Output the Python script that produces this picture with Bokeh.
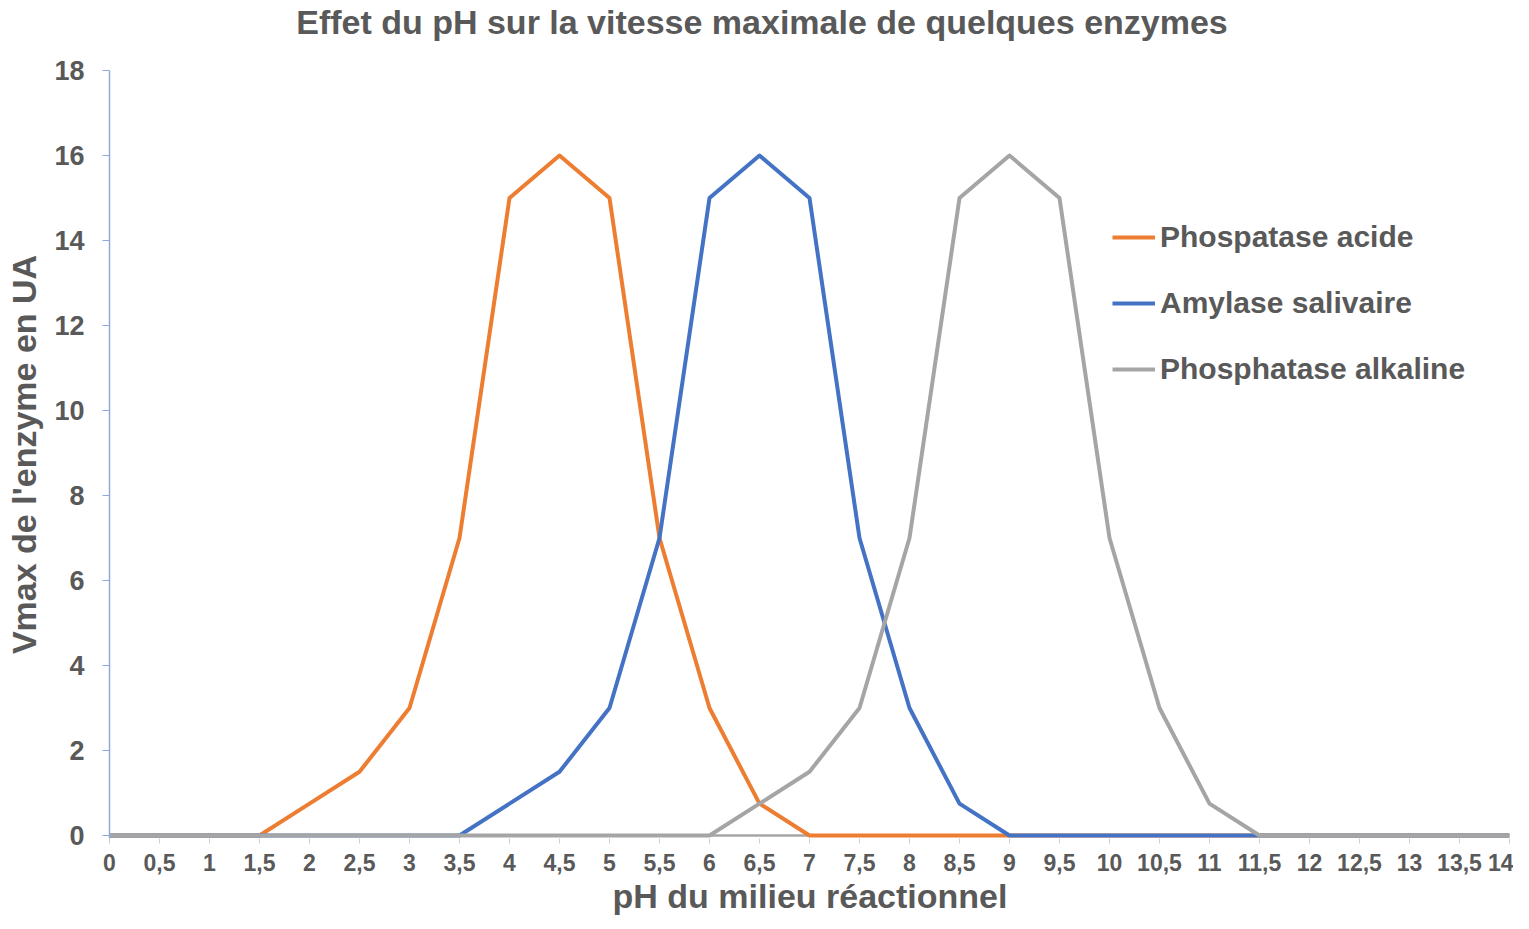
from bokeh.plotting import figure
from bokeh.models import Range1d, FixedTicker, Legend, LegendItem, Span, Div
from bokeh.layouts import column
from bokeh.embed import file_html
from bokeh.resources import INLINE

ph = [0, 0.5, 1, 1.5, 2, 2.5, 3, 3.5, 4, 4.5, 5, 5.5, 6, 6.5, 7, 7.5, 8, 8.5, 9, 9.5,
      10, 10.5, 11, 11.5, 12, 12.5, 13, 13.5, 14]
phospatase_acide = [0, 0, 0, 0, 0.75, 1.5, 3, 7, 15, 16, 15, 7, 3, 0.75, 0, 0, 0, 0, 0, 0,
                    0, 0, 0, 0, 0, 0, 0, 0, 0]
amylase_salivaire = [0, 0, 0, 0, 0, 0, 0, 0, 0.75, 1.5, 3, 7, 15, 16, 15, 7, 3, 0.75, 0, 0,
                     0, 0, 0, 0, 0, 0, 0, 0, 0]
phosphatase_alkaline = [0, 0, 0, 0, 0, 0, 0, 0, 0, 0, 0, 0, 0, 0.75, 1.5, 3, 7, 15, 16, 15,
                        7, 3, 0.75, 0, 0, 0, 0, 0, 0]
x_tick_labels = ["0", "0,5", "1", "1,5", "2", "2,5", "3", "3,5", "4", "4,5", "5", "5,5", "6",
                 "6,5", "7", "7,5", "8", "8,5", "9", "9,5", "10", "10,5", "11", "11,5", "12",
                 "12,5", "13", "13,5", "14"]
y_ticks = [0, 2, 4, 6, 8, 10, 12, 14, 16, 18]
series_names = ["Phospatase acide", "Amylase salivaire", "Phosphatase alkaline"]
series_colors = ["#ED7D31", "#4472C4", "#A5A5A5"]
title_text = "Effet du pH sur la vitesse maximale de quelques enzymes"
x_label_text = "pH du milieu réactionnel"
y_label_text = "Vmax de l'enzyme en UA"

FONT = "Liberation Sans"
TXT = "#595959"
W = 1513

title_div = Div(text=title_text, width=W, height=45, margin=0,
                styles={"font-family": FONT, "font-size": "34px", "font-weight": "bold",
                        "color": TXT, "line-height": "45px", "text-align": "center",
                        "padding-left": "11px", "box-sizing": "border-box",
                        "white-space": "nowrap"})

p = figure(width=W, height=834, output_backend="svg", toolbar_location=None,
           x_range=Range1d(0, 14), y_range=Range1d(-0.07, 18),
           min_border_left=109, min_border_right=4, min_border_top=25, min_border_bottom=41,
           margin=0)
p.outline_line_color = None
p.xgrid.visible = False
p.ygrid.visible = False

# x axis
p.xaxis.ticker = FixedTicker(ticks=ph)
p.xaxis.major_label_overrides = {v: s for v, s in zip(ph, x_tick_labels)}
p.xaxis.axis_line_alpha = 0
p.xaxis.major_tick_line_color = "#D0D0D0"
p.xaxis.major_tick_in = 0
p.xaxis.major_tick_out = 5
p.xaxis.minor_tick_line_color = None
p.xaxis.major_label_text_font = FONT
p.xaxis.major_label_text_font_size = "23px"
p.xaxis.major_label_text_font_style = "bold"
p.xaxis.major_label_text_color = TXT
p.xaxis.major_label_standoff = 10

# y axis
p.yaxis.ticker = FixedTicker(ticks=y_ticks)
p.yaxis.axis_line_color = "#8FAADC"
p.yaxis.axis_line_width = 1.5
p.yaxis.major_tick_line_color = "#8FAADC"
p.yaxis.major_tick_in = 0
p.yaxis.major_tick_out = 7
p.yaxis.minor_tick_line_color = None
p.yaxis.major_label_text_font = FONT
p.yaxis.major_label_text_font_size = "27px"
p.yaxis.major_label_text_font_style = "bold"
p.yaxis.major_label_text_color = TXT
p.yaxis.major_label_standoff = 18
p.yaxis.axis_label = y_label_text
p.yaxis.axis_label_text_font = FONT
p.yaxis.axis_label_text_font_size = "34px"
p.yaxis.axis_label_text_font_style = "bold"
p.yaxis.axis_label_text_color = TXT
p.yaxis.axis_label_standoff = 8

zero_line = Span(location=0, dimension="width", line_color="#A6A6A6", line_width=2.5,
                 level="underlay")
p.add_layout(zero_line)

items = []
for name, ys, col in zip(series_names,
                         [phospatase_acide, amylase_salivaire, phosphatase_alkaline],
                         series_colors):
    r = p.line(ph, ys, line_color=col, line_width=4, line_join="round")
    items.append(LegendItem(label=name, renderers=[r]))

legend = Legend(items=items, location=(1003, 452), orientation="vertical",
                border_line_alpha=0, background_fill_alpha=0,
                padding=0, margin=0, spacing=32, glyph_width=43, glyph_height=32,
                label_height=32, label_standoff=5,
                label_text_font=FONT, label_text_font_size="30px",
                label_text_font_style="bold", label_text_color=TXT)
p.add_layout(legend)

xlabel_div = Div(text=x_label_text, width=W, height=34, margin=0,
                 styles={"font-family": FONT, "font-size": "34px", "font-weight": "bold",
                         "color": TXT, "line-height": "34px", "text-align": "center",
                         "padding-left": "107px", "box-sizing": "border-box",
                         "white-space": "nowrap"})

layout = column(title_div, p, xlabel_div, spacing=0)

open("out.html", "w").write(file_html(layout, INLINE))
